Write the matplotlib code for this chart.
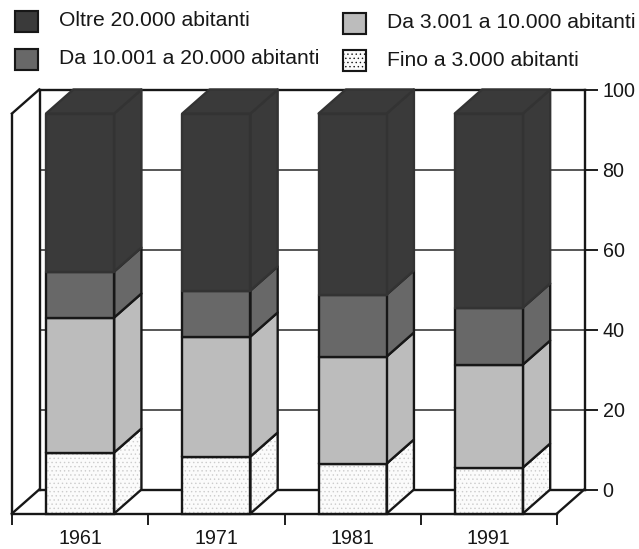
import matplotlib
matplotlib.use("Agg")
import matplotlib.pyplot as plt
from matplotlib.patches import Polygon, Rectangle

plt.rcParams["font.family"] = ["Liberation Sans", "DejaVu Sans"]
plt.rcParams["hatch.linewidth"] = 0.5

years = ["1961", "1971", "1981", "1991"]
fino_3000 = [15.25, 14.25, 12.5, 11.5]
da_3001_10000 = [33.75, 30.0, 26.75, 25.75]
da_10001_20000 = [11.5, 11.5, 15.5, 14.25]
oltre_20000 = [39.5, 44.25, 45.25, 48.5]
y_ticks = [0, 20, 40, 60, 80, 100]

names = [
    "Fino a 3.000 abitanti",
    "Da 3.001 a 10.000 abitanti",
    "Da 10.001 a 20.000 abitanti",
    "Oltre 20.000 abitanti",
]
series = [fino_3000, da_3001_10000, da_10001_20000, oltre_20000]
colors = ["#fbfbfb", "#bcbcbc", "#686868", "#3a3a3a"]

W, H = 639, 549
INK = "#171717"
LW = 1.7
FS = 15.2
DEPTH_X = 0.2
DEPTH_Y = 6
BAR_START = 0.25
BAR_WIDTH = 0.5

fig = plt.figure(figsize=(W / 100, H / 100), dpi=100)
ax_back = fig.add_axes([39.5 / W, (H - 489.5) / H, 545 / W, 400 / H])
ax = fig.add_axes([12 / W, (H - 513.5) / H, 545 / W, 400 / H])
ax.patch.set_alpha(0)

# parete di fondo con griglia e scala a destra
ax_back.set_xlim(0, 4)
ax_back.set_ylim(0, 100)
ax_back.set_xticks([])
ax_back.set_yticks(y_ticks)
ax_back.yaxis.tick_right()
ax_back.tick_params(axis="y", length=9, width=LW * 0.8, color=INK, pad=4,
                    labelsize=14.2, labelcolor=INK)
ax_back.grid(True, axis="y", color="#3a3a3a", lw=1.2)
for spine in ax_back.spines.values():
    spine.set_linewidth(LW)
    spine.set_color(INK)

ax.set_xlim(0, 4)
ax.set_ylim(0, 100)
ax.set_yticks([])
ax.set_xticks(range(5))
ax.set_xticklabels([])
ax.set_xticks([i + 0.5 for i in range(4)], years, minor=True)
ax.tick_params(axis="x", which="major", length=8, width=LW * 0.8, color=INK)
ax.tick_params(axis="x", which="minor", length=0, pad=11, labelsize=14.2, labelcolor=INK)
for name in ["top", "right"]:
    ax.spines[name].set_visible(False)
ax.spines["left"].set_linewidth(LW)
ax.spines["bottom"].set_linewidth(LW)
ax.spines["left"].set_color(INK)
ax.spines["bottom"].set_color(INK)

# spigoli del pavimento e della parete sinistra
ax.plot([0, DEPTH_X], [0, DEPTH_Y], color=INK, lw=LW, clip_on=False)
ax.plot([0, DEPTH_X], [100, 100 + DEPTH_Y], color=INK, lw=LW, clip_on=False)
ax.plot([4, 4 + DEPTH_X], [0, DEPTH_Y], color=INK, lw=LW, clip_on=False)


def face(points, color, dotted, edge=INK):
    if dotted:
        ax.add_patch(Polygon(points, facecolor=color, edgecolor="#cccccc", hatch="....",
                             lw=0, clip_on=False, zorder=3))
        ax.add_patch(Polygon(points, fill=False, edgecolor=edge, lw=LW, clip_on=False, zorder=4))
    else:
        ax.add_patch(Polygon(points, facecolor=color, edgecolor=edge, lw=LW,
                             joinstyle="round", clip_on=False, zorder=4))


for i in range(len(years)):
    x0 = i + BAR_START
    x1 = x0 + BAR_WIDTH
    base = 0
    for values, color in zip(series, colors):
        top = base + values[i]
        dotted = color == colors[0]
        edge = "#333333" if color == colors[-1] else INK
        face([(x1, base), (x1 + DEPTH_X, base + DEPTH_Y),
              (x1 + DEPTH_X, top + DEPTH_Y), (x1, top)], color, dotted, edge)
        face([(x0, base), (x1, base), (x1, top), (x0, top)], color, dotted, edge)
        base = top
    face([(x0, base), (x1, base), (x1 + DEPTH_X, base + DEPTH_Y),
          (x0 + DEPTH_X, base + DEPTH_Y)], colors[-1], False, "#333333")

# legenda
legend_rows = [
    (15, 11, 59, 21, 3),
    (15, 49, 59, 59, 2),
    (343, 13, 387, 23, 1),
    (343, 50, 387, 60, 0),
]
for box_x, box_y, text_x, text_y, idx in legend_rows:
    fig.add_artist(Rectangle((box_x / W, 1 - (box_y + 21) / H), 23 / W, 21 / H,
                             facecolor=colors[idx], edgecolor=INK, lw=LW * 0.9,
                             hatch="...." if idx == 0 else None))
    fig.text(text_x / W, 1 - text_y / H, names[idx], fontsize=FS, color=INK, va="center")

fig.savefig("out.png", dpi=100)
